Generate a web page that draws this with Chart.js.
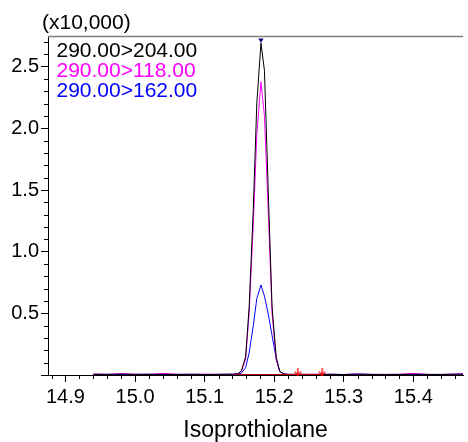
<!DOCTYPE html>
<html>
<head>
<meta charset="utf-8">
<script src="https://cdn.jsdelivr.net/npm/chart.js@4.4.1/dist/chart.umd.min.js"></script>
<style>
  html, body { margin: 0; padding: 0; background: #fff; }
  #wrap { width: 468px; height: 442px; position: relative; }
</style>
</head>
<body>
<div id="wrap"><canvas id="chrom-chart"></canvas></div>
<script>
// retention times (min)
const times = [
  14.940, 14.960, 14.980, 15.000, 15.020, 15.040, 15.060, 15.080, 15.100, 15.120, 15.140,
  15.148, 15.153, 15.159, 15.164, 15.170, 15.175, 15.181, 15.186, 15.192, 15.197, 15.203, 15.208, 15.214,
  15.220, 15.240, 15.260, 15.280, 15.300, 15.320, 15.340, 15.360, 15.380, 15.400, 15.420, 15.440, 15.460, 15.472
];
// intensities (x10,000)
const trace204 = [
  0.006, 0.004, 0.007, 0.005, 0.004, 0.006, 0.004, 0.005, 0.004, 0.005, 0.006,
  0.010, 0.035, 0.150, 0.550, 1.350, 2.200, 2.693, 2.470, 1.400, 0.550, 0.140, 0.030, 0.008,
  0.005, 0.006, 0.004, 0.005, 0.004, 0.006, 0.004, 0.005, 0.004, 0.006, 0.005, 0.004, 0.007, 0.005
];
const trace118 = [
  0.008, 0.005, 0.012, 0.006, 0.005, 0.013, 0.006, 0.005, 0.007, 0.005, 0.006,
  0.010, 0.030, 0.130, 0.500, 1.220, 1.950, 2.379, 2.100, 1.250, 0.500, 0.120, 0.030, 0.008,
  0.005, 0.004, 0.006, 0.005, 0.004, 0.007, 0.005, 0.004, 0.006, 0.013, 0.005, 0.004, 0.006, 0.012
];
const trace162 = [
  0.005, 0.006, 0.004, 0.005, 0.007, 0.004, 0.005, 0.006, 0.004, 0.005, 0.006,
  0.008, 0.015, 0.060, 0.180, 0.400, 0.620, 0.730, 0.640, 0.480, 0.320, 0.130, 0.030, 0.008,
  0.005, 0.004, 0.005, 0.006, 0.004, 0.008, 0.005, 0.004, 0.005, 0.006, 0.004, 0.005, 0.006, 0.009
];
const traceNames = ['290.00>204.00', '290.00>118.00', '290.00>162.00'];
const apexTime = [15.181];
const apexLevel = [2.717];
const markTimes = [15.234, 15.269];
const markLevels = [0.028, 0.028];
const baseTimes = [15.146, 15.269];
const baseLevels = [0.004, 0.004];
const compoundName = 'Isoprothiolane';
const scaleLabel = '(x10,000)';

const xMin = 14.8749, xMax = 15.4714;
const yMin = 0, yMax = 2.75;

const colors = ['#000000', '#ff00ff', '#0000ff'];
const FONT = 'Liberation Sans, Arial, sans-serif';

function pts(xs, ys) {
  return xs.map((x, i) => ({ x: x, y: ys[i] }));
}

// little red down arrow for integration marks
const arrowImg = document.createElement('canvas');
arrowImg.width = 8; arrowImg.height = 8;
(function () {
  const c = arrowImg.getContext('2d');
  c.strokeStyle = '#ff0000';
  c.lineWidth = 1.3;
  c.beginPath();
  c.moveTo(4, 0); c.lineTo(4, 7.5);
  c.moveTo(0.8, 4.3); c.lineTo(4, 7.5); c.lineTo(7.2, 4.3);
  c.stroke();
})();

const extras = {
  id: 'extras',
  afterDraw(chart) {
    const ctx = chart.ctx;
    const ca = chart.chartArea;
    const xs = chart.scales.x, ys = chart.scales.y;
    ctx.save();
    // top frame line
    ctx.strokeStyle = '#808080';
    ctx.lineWidth = 1.5;
    ctx.beginPath();
    ctx.moveTo(ca.left, ca.top + 0.5);
    ctx.lineTo(ca.right, ca.top + 0.5);
    ctx.stroke();
    // minor ticks
    ctx.strokeStyle = '#000';
    ctx.lineWidth = 1;
    ctx.beginPath();
    for (let k = 744; k <= 774; k++) {
      const v = k * 0.02;
      if (k % 5 === 0) continue;
      if (v < xMin || v > xMax) continue;
      const px = Math.round(xs.getPixelForValue(v)) + 0.5;
      ctx.moveTo(px, ca.bottom);
      ctx.lineTo(px, ca.bottom + 4);
    }
    for (let k = 1; k <= 27; k++) {
      if (k % 5 === 0) continue;
      const py = Math.round(ys.getPixelForValue(k * 0.1)) + 0.5;
      ctx.moveTo(ca.left, py);
      ctx.lineTo(ca.left - 4, py);
    }
    ctx.stroke();
    // texts
    ctx.font = '21px ' + FONT;
    ctx.textAlign = 'left';
    ctx.textBaseline = 'alphabetic';
    ctx.fillStyle = '#000';
    ctx.fillText(scaleLabel, 42, 29);
    const baselines = [57, 77, 96.5];
    traceNames.forEach((t, i) => {
      ctx.fillStyle = colors[i];
      ctx.fillText(t, 56.5, baselines[i]);
    });
    ctx.restore();
  }
};

const chartData = {
  datasets: [
    {
      label: 'apex',
      data: pts(apexTime, apexLevel),
      showLine: false,
      pointStyle: 'triangle',
      rotation: 180,
      pointRadius: 3,
      backgroundColor: '#000080',
      borderColor: '#000080',
      borderWidth: 0
    },
    {
      label: 'marks',
      data: pts(markTimes, markLevels),
      showLine: false,
      pointStyle: arrowImg,
      pointRadius: 4
    },
    {
      label: 'baseline',
      data: pts(baseTimes, baseLevels),
      borderColor: '#b00000',
      borderWidth: 1,
      pointRadius: 0
    },
    {
      label: traceNames[0],
      data: pts(times, trace204),
      borderColor: colors[0],
      borderWidth: 1,
      pointRadius: 0
    },
    {
      label: traceNames[1],
      data: pts(times, trace118),
      borderColor: colors[1],
      borderWidth: 1,
      pointRadius: 0
    },
    {
      label: traceNames[2],
      data: pts(times, trace162),
      borderColor: colors[2],
      borderWidth: 1,
      pointRadius: 0
    }
  ]
};

const chartConfig = {
  type: 'line',
  data: chartData,
  options: {
    responsive: true,
    maintainAspectRatio: false,
    animation: false,
    events: [],
    layout: { padding: { top: 36, left: 0, right: 0, bottom: 0 } },
    elements: { line: { tension: 0 } },
    datasets: { line: { clip: { left: 0, top: 6, right: 0, bottom: 4 } } },
    plugins: {
      legend: { display: false },
      tooltip: { enabled: false }
    },
    scales: {
      x: {
        type: 'linear',
        min: xMin,
        max: xMax,
        afterFit(scale) { scale.height = 67; },
        border: { color: '#000', width: 1 },
        grid: { drawOnChartArea: false, tickLength: 7, tickColor: '#000' },
        ticks: {
          stepSize: 0.1,
          includeBounds: false,
          autoSkip: false,
          maxRotation: 0,
          padding: 3,
          color: '#000',
          font: { family: FONT, size: 20 },
          callback: v => v.toFixed(1)
        },
        title: {
          display: true,
          text: compoundName,
          color: '#000',
          font: { family: FONT, size: 23 },
          padding: { top: 0, bottom: -2 }
        }
      },
      y: {
        type: 'linear',
        min: yMin,
        max: yMax,
        afterFit(scale) { scale.width = 48; },
        border: { color: '#000', width: 1 },
        grid: { drawOnChartArea: false, tickLength: 7, tickColor: '#000' },
        ticks: {
          stepSize: 0.5,
          includeBounds: false,
          padding: 2,
          color: '#000',
          font: { family: FONT, size: 20 },
          callback: v => (v === 0 ? '' : v.toFixed(1))
        }
      }
    }
  },
  plugins: [extras]
};

const chromChart = new Chart(document.getElementById('chrom-chart'), chartConfig);
</script>
</body>
</html>
